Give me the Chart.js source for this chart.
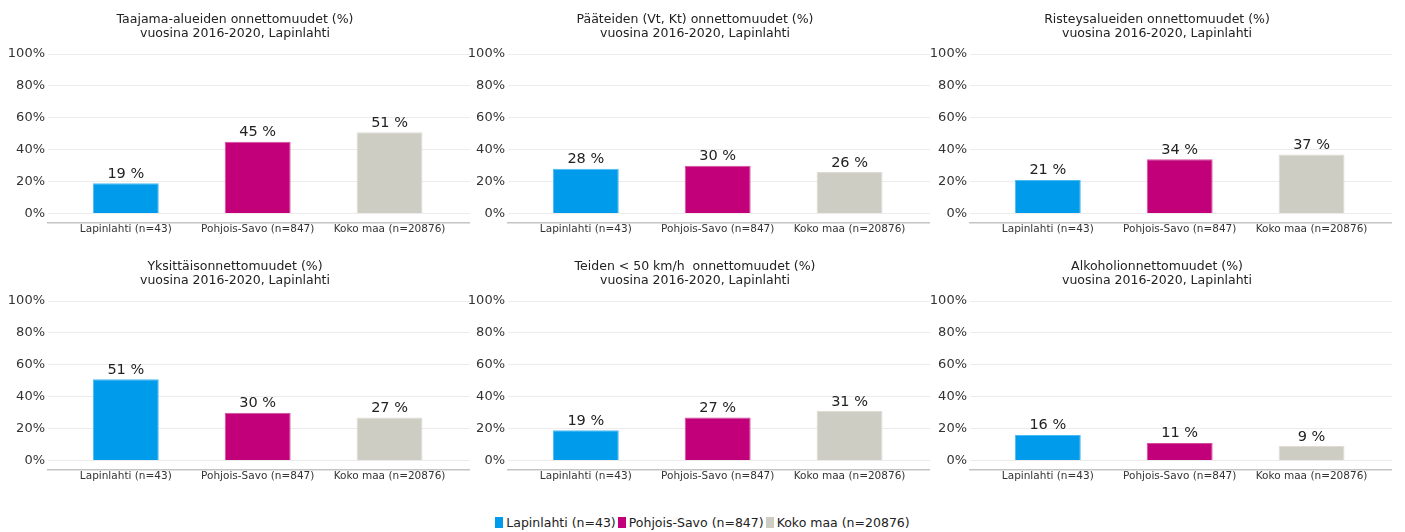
<!DOCTYPE html>
<html>
<head>
<meta charset="utf-8">
<script src="https://cdn.jsdelivr.net/npm/chart.js@4/dist/chart.umd.min.js"></script>
<style>
  body { margin: 0; background: #fff; width: 1405px; height: 532px; position: relative; overflow: hidden; font-family: "DejaVu Sans", sans-serif; }
  .panel { position: absolute; width: 470px; height: 247px; }
  .legend { position: absolute; left: 0; width: 1405px; top: 515px; text-align: center; font-size: 12.5px; color: #222; }
  .legend span.box { display: inline-block; width: 8px; height: 11px; vertical-align: -1px; margin-right: 3px; }
  .legend span.item { margin: 0 1px; }
</style>
</head>
<body>
<div class="panel" style="left:0;top:0"><canvas id="c0" width="470" height="247"></canvas></div>
<div class="panel" style="left:460px;top:0"><canvas id="c1" width="470" height="247"></canvas></div>
<div class="panel" style="left:922px;top:0"><canvas id="c2" width="470" height="247"></canvas></div>
<div class="panel" style="left:0;top:247px"><canvas id="c3" width="470" height="247"></canvas></div>
<div class="panel" style="left:460px;top:247px"><canvas id="c4" width="470" height="247"></canvas></div>
<div class="panel" style="left:922px;top:247px"><canvas id="c5" width="470" height="247"></canvas></div>
<div class="legend" id="legend"></div>
<script>
const categories = ["Lapinlahti (n=43)", "Pohjois-Savo (n=847)", "Koko maa (n=20876)"];
const colors = ["#009ceb", "#c2007a", "#cdcdc4"];
const borders = ["#4dbaf2", "#d44d9c", "#dedcd5"];

const titles = [
  ["Taajama-alueiden onnettomuudet (%)", "vuosina 2016-2020, Lapinlahti"],
  ["Pääteiden (Vt, Kt) onnettomuudet (%)", "vuosina 2016-2020, Lapinlahti"],
  ["Risteysalueiden onnettomuudet (%)", "vuosina 2016-2020, Lapinlahti"],
  ["Yksittäisonnettomuudet (%)", "vuosina 2016-2020, Lapinlahti"],
  ["Teiden < 50 km/h  onnettomuudet (%)", "vuosina 2016-2020, Lapinlahti"],
  ["Alkoholionnettomuudet (%)", "vuosina 2016-2020, Lapinlahti"]
];

const taajama = [19, 45, 51];
const paatiet = [28, 30, 26];
const risteys = [21, 34, 37];
const yksittais = [51, 30, 27];
const alle50 = [19, 27, 31];
const alkoholi = [16, 11, 9];
const series = [taajama, paatiet, risteys, yksittais, alle50, alkoholi];

const yTicks = [0, 20, 40, 60, 80, 100];

// value text above each bar
const barLabels = {
  id: "barLabels",
  afterDatasetsDraw(chart) {
    const ctx = chart.ctx;
    const meta = chart.getDatasetMeta(0);
    ctx.save();
    ctx.font = "14.5px 'DejaVu Sans'";
    ctx.fillStyle = "#222";
    ctx.textAlign = "center";
    ctx.textBaseline = "bottom";
    meta.data.forEach((bar, i) => {
      ctx.fillText(chart.data.datasets[0].data[i].y + " %", bar.x, bar.y - 2);
    });
    ctx.restore();
  }
};

series.forEach((vals, k) => {
  new Chart(document.getElementById("c" + k), {
    type: "bar",
    data: {
      datasets: [{
        data: vals.map((v, i) => ({ x: i, y: v })),
        backgroundColor: colors,
        borderColor: borders,
        borderWidth: 1,
        barPercentage: 0.5,
        categoryPercentage: 1
      }]
    },
    options: {
      responsive: false,
      animation: false,
      layout: { padding: { top: 0, right: 0, bottom: 10, left: 0 } },
      plugins: {
        legend: { display: false },
        tooltip: { enabled: false },
        title: {
          display: true,
          text: titles[k],
          color: "#222",
          font: { family: "DejaVu Sans", size: 12.5, weight: "normal", lineHeight: 1.12 },
          padding: { top: 13, bottom: 13 }
        }
      },
      scales: {
        x: {
          type: "linear",
          offset: false,
          min: -0.59,
          max: 2.61,
          grid: { display: false, drawTicks: false, tickLength: 0, offset: false },
          border: { display: true, color: "#c4c4c4", width: 1.5 },
          afterBuildTicks: s => { s.ticks = categories.map((c, i) => ({ value: i })); },
          ticks: {
            padding: 1,
            color: "#333",
            font: { family: "DejaVu Sans", size: 10.5 },
            maxRotation: 0,
            autoSkip: false,
            callback: v => categories[v]
          }
        },
        y: {
          min: -5.6,
          max: 100,
          afterFit: s => { s.width = 48; },
          afterBuildTicks: s => { s.ticks = yTicks.map(v => ({ value: v })); },
          grid: { color: "#ececec", drawTicks: false },
          border: { display: false },
          ticks: {
            padding: 3,
            color: "#333",
            font: { family: "DejaVu Sans", size: 13 },
            callback: v => v + "%"
          }
        }
      }
    },
    plugins: [barLabels]
  });
});

document.getElementById("legend").innerHTML = categories.map((c, i) =>
  '<span class="item"><span class="box" style="background:' + colors[i] + '"></span>' + c + '</span>'
).join("");
</script>
</body>
</html>
